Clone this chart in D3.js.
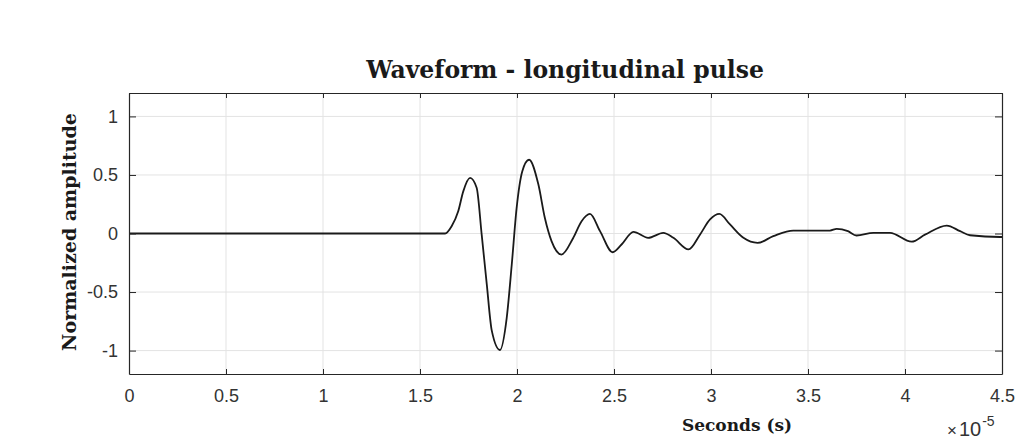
<!DOCTYPE html>
<html>
<head>
<meta charset="utf-8">
<script src="https://cdn.jsdelivr.net/npm/d3@7"></script>
<style>
  body { margin: 0; background: #fff; }
  svg { display: block; }
</style>
</head>
<body>
<div id="chart"></div>
<script>
// time in units of 1e-5 s, amplitude normalized
const timeVals = [0, 1.629, 1.663, 1.697, 1.723, 1.758, 1.792, 1.818, 1.844, 1.870, 1.912, 1.947, 1.973, 1.998, 2.027, 2.062, 2.110, 2.144, 2.178, 2.229, 2.289, 2.333, 2.376, 2.428, 2.493, 2.539, 2.600, 2.676, 2.754, 2.806, 2.884, 2.943, 2.995, 3.043, 3.098, 3.167, 3.240, 3.321, 3.424, 3.613, 3.648, 3.706, 3.750, 3.837, 3.923, 4.034, 4.103, 4.215, 4.284, 4.335, 4.490, 4.500];
const ampVals  = [0, 0, 0.062, 0.19, 0.36, 0.475, 0.39, -0.01, -0.43, -0.83, -0.995, -0.72, -0.265, 0.217, 0.53, 0.63, 0.42, 0.13, -0.065, -0.18, -0.04, 0.105, 0.167, 0.02, -0.16, -0.094, 0.014, -0.037, 0.005, -0.037, -0.136, -0.01, 0.12, 0.167, 0.077, -0.037, -0.08, -0.023, 0.025, 0.025, 0.04, 0.02, -0.017, 0.005, 0.005, -0.07, -0.01, 0.068, 0.02, -0.015, -0.03, -0.03];
const xTicks = [0, 0.5, 1, 1.5, 2, 2.5, 3, 3.5, 4, 4.5];
const yTicks = [-1, -0.5, 0, 0.5, 1];

const W = 1036, H = 440;
const margin = {top: 93, left: 129, right: 34, bottom: 66};
const width = W - margin.left - margin.right,
      height = H - margin.top - margin.bottom;

const data = timeVals.map((t, i) => ({t: t, a: ampVals[i]}));

const svg = d3.select("#chart").append("svg")
    .attr("width", W)
    .attr("height", H);

svg.append("rect").attr("width", W).attr("height", H).attr("fill", "#fff");

const g = svg.append("g")
    .attr("transform", "translate(" + margin.left + "," + margin.top + ")");

const x = d3.scaleLinear().domain([0, 4.5]).range([0, width]);
const y = d3.scaleLinear().domain([-1.2, 1.2]).range([height, 0]);

// grid
g.append("g").selectAll("line")
    .data(xTicks.slice(1, -1))
    .enter().append("line")
    .attr("x1", d => x(d)).attr("x2", d => x(d))
    .attr("y1", 0).attr("y2", height)
    .attr("stroke", "#e3e3e3").attr("stroke-width", 1);

g.append("g").selectAll("line")
    .data(yTicks)
    .enter().append("line")
    .attr("x1", 0).attr("x2", width)
    .attr("y1", d => y(d)).attr("y2", d => y(d))
    .attr("stroke", "#e3e3e3").attr("stroke-width", 1);

// waveform
const line = d3.line()
    .x(d => x(d.t))
    .y(d => y(d.a))
    .curve(d3.curveMonotoneX);

g.append("path")
    .datum(data)
    .attr("fill", "none")
    .attr("stroke", "#1a1a1a")
    .attr("stroke-width", 1.8)
    .attr("d", line);

// axes (MATLAB-style box with inward ticks), plain hyphen for minus
const fmt = d => String(d);
const axColor = "#262626";

const xAxis = g.append("g")
    .attr("transform", "translate(0," + height + ")")
    .call(d3.axisBottom(x).tickValues(xTicks).tickFormat(fmt).tickSizeInner(-5).tickSizeOuter(0).tickPadding(15));
const xTop = g.append("g")
    .call(d3.axisTop(x).tickValues(xTicks).tickFormat("").tickSizeInner(-5).tickSizeOuter(0));
const yAxis = g.append("g")
    .call(d3.axisLeft(y).tickValues(yTicks).tickFormat(fmt).tickSizeInner(-7).tickSizeOuter(0).tickPadding(11));
const yRight = g.append("g")
    .attr("transform", "translate(" + width + ",0)")
    .call(d3.axisRight(y).tickValues(yTicks).tickFormat("").tickSizeInner(-7).tickSizeOuter(0));

[xAxis, xTop, yAxis, yRight].forEach(a => {
    a.select(".domain").attr("stroke", axColor).attr("stroke-width", 1.2);
    a.selectAll(".tick line").attr("stroke", axColor);
    a.selectAll("text")
        .attr("fill", "#333")
        .style("font-family", "'Liberation Sans', Arial, sans-serif")
        .style("font-size", "18px");
});

// title
svg.append("text")
    .attr("x", 565)
    .attr("y", 78)
    .attr("text-anchor", "middle")
    .style("font-family", "'DejaVu Serif', serif")
    .style("font-weight", "bold")
    .style("font-size", "23.5px")
    .attr("fill", "#1a1a1a")
    .text("Waveform - longitudinal pulse");

// y label
svg.append("text")
    .attr("transform", "translate(76,232) rotate(-90)")
    .attr("text-anchor", "middle")
    .style("font-family", "'DejaVu Serif', serif")
    .style("font-weight", "bold")
    .style("font-size", "19px")
    .attr("fill", "#1a1a1a")
    .text("Normalized amplitude");

// x label
svg.append("text")
    .attr("x", 737)
    .attr("y", 431)
    .attr("text-anchor", "middle")
    .style("font-family", "'DejaVu Serif', serif")
    .style("font-weight", "bold")
    .style("font-size", "17px")
    .attr("fill", "#1a1a1a")
    .text("Seconds (s)");

// exponent
const ex = svg.append("text")
    .attr("x", 947)
    .attr("y", 436)
    .style("font-family", "'Liberation Sans', Arial, sans-serif")
    .attr("fill", "#333");
ex.append("tspan").style("font-size", "17px").text("\u00d7");
ex.append("tspan").attr("dx", 2).style("font-size", "20px").text("10");
ex.append("tspan").attr("dx", 1).attr("dy", -10).style("font-size", "14px").text("-5");
</script>
</body>
</html>
